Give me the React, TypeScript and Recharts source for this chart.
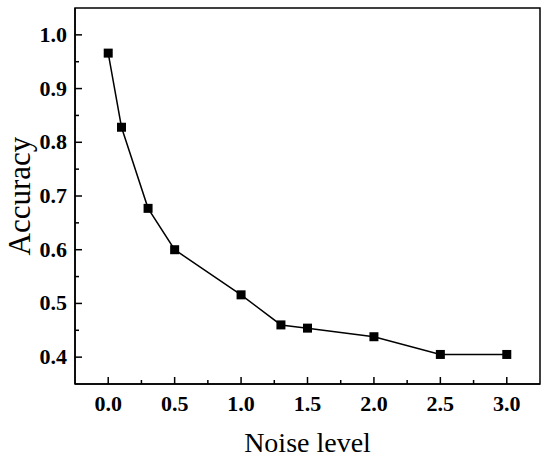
import { Label, Line, LineChart, ReferenceArea, XAxis, YAxis } from "recharts";

const noiseLevels = [0, 0.1, 0.3, 0.5, 1.0, 1.3, 1.5, 2.0, 2.5, 3.0];
const accuracy = [0.966, 0.828, 0.677, 0.6, 0.516, 0.46, 0.454, 0.438, 0.405, 0.405];

const xTicks = [0, 0.25, 0.5, 0.75, 1.0, 1.25, 1.5, 1.75, 2.0, 2.25, 2.5, 2.75, 3.0];
const yTicks = [0.4, 0.45, 0.5, 0.55, 0.6, 0.65, 0.7, 0.75, 0.8, 0.85, 0.9, 0.95, 1.0];

const xDomain = [-0.25, 3.25];
const yDomain = [0.35, 1.05];

const data = noiseLevels.map((n, i) => ({ noise: n, acc: accuracy[i] }));

const FONT = "'Liberation Serif', 'Times New Roman', serif";
const MARGIN = 8;
const frame = { stroke: "#000", strokeWidth: 1.5 };

const isMajor = (v: number, step: number) => Math.abs(v / step - Math.round(v / step)) < 1e-6;

// ticks point into the plot, labels only on the major ones
function XTick(props: any) {
  const { x, y, payload } = props;
  const v = payload.value as number;
  const major = isMajor(v, 0.5);
  const axisY = y - MARGIN;
  return (
    <g>
      <line x1={x} x2={x} y1={axisY} y2={axisY - (major ? 7 : 4)} stroke="#000" strokeWidth={1.5} />
      {major && (
        <text x={x} y={axisY + 27} textAnchor="middle" fontFamily={FONT} fontWeight="bold" fontSize={22} fill="#000">
          {v.toFixed(1)}
        </text>
      )}
    </g>
  );
}

function YTick(props: any) {
  const { x, y, payload } = props;
  const v = payload.value as number;
  const major = isMajor(v, 0.1);
  const axisX = x + MARGIN;
  return (
    <g>
      <line x1={axisX} x2={axisX + (major ? 7 : 4)} y1={y} y2={y} stroke="#000" strokeWidth={1.5} />
      {major && (
        <text x={axisX - 8} y={y + 7} textAnchor="end" fontFamily={FONT} fontWeight="bold" fontSize={22} fill="#000">
          {v.toFixed(1)}
        </text>
      )}
    </g>
  );
}

function SquareDot(props: any) {
  const { cx, cy } = props;
  return <rect x={cx - 4.5} y={cy - 4.5} width={9} height={9} fill="#000" />;
}

export default function App() {
  return (
    <div style={{ position: "absolute", left: 0, top: 0, background: "#fff" }}>
      <LineChart width={550} height={462} data={data} margin={{ top: 8, right: 10, bottom: 0, left: 0 }}>
        <XAxis
          dataKey="noise"
          type="number"
          domain={xDomain}
          ticks={xTicks}
          interval={0}
          height={78}
          tickSize={0}
          tickMargin={MARGIN}
          tick={<XTick />}
          axisLine={frame}
        >
          <Label
            value="Noise level"
            position="insideBottom"
            offset={10}
            style={{ fontFamily: FONT, fontSize: 28, fill: "#000" }}
          />
        </XAxis>
        <YAxis
          type="number"
          domain={yDomain}
          ticks={yTicks}
          interval={0}
          width={75}
          tickSize={0}
          tickMargin={MARGIN}
          tick={<YTick />}
          axisLine={frame}
        >
          <Label
            value="Accuracy"
            angle={-90}
            position="center"
            dx={-19}
            style={{ fontFamily: FONT, fontSize: 31, fill: "#000", textAnchor: "middle" }}
          />
        </YAxis>
        <ReferenceArea
          x1={xDomain[0]}
          x2={xDomain[1]}
          y1={yDomain[0]}
          y2={yDomain[1]}
          fill="none"
          fillOpacity={0}
          stroke="#000"
          strokeWidth={1.5}
          ifOverflow="visible"
        />
        <Line
          dataKey="acc"
          type="linear"
          stroke="#000"
          strokeWidth={1.5}
          dot={<SquareDot />}
          activeDot={false}
          isAnimationActive={false}
        />
      </LineChart>
    </div>
  );
}
